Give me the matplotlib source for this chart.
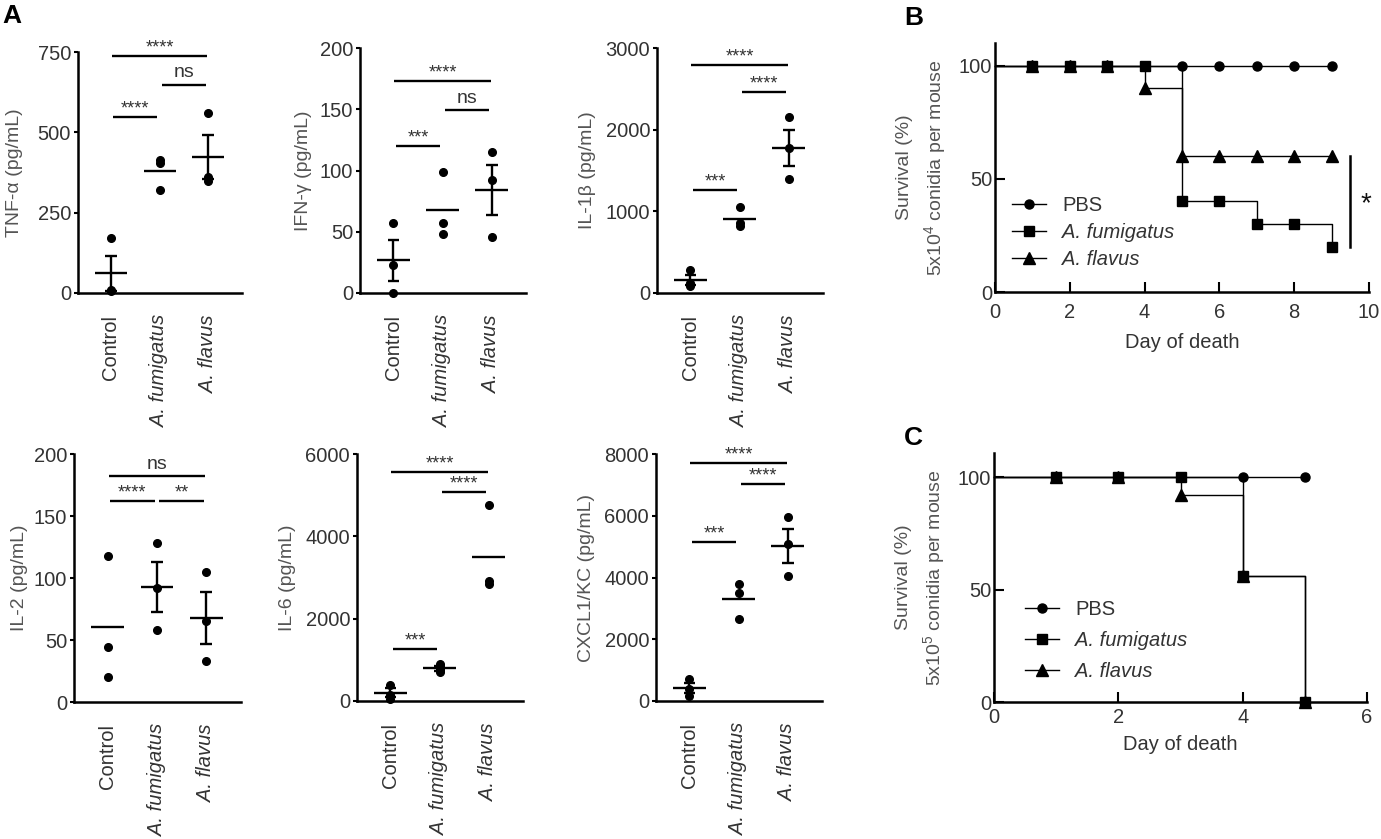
import matplotlib
matplotlib.use('Agg')
import matplotlib.pyplot as plt
import numpy as np

plt.rcParams['font.family'] = ['Liberation Sans', 'DejaVu Sans']
plt.rcParams['mathtext.fontset'] = 'custom'
plt.rcParams['mathtext.rm'] = 'Liberation Sans'
plt.rcParams['mathtext.it'] = 'Liberation Sans:italic'

# ---------------- data ----------------
groups = ['Control', 'A. fumigatus', 'A. flavus']

tnf = [[170, 10, 5], [415, 405, 320], [560, 360, 350]]
ifn = [[57, 23, 0], [99, 57, 48], [115, 92, 46]]
il1b = [[285, 120, 85], [1050, 860, 820], [2150, 1780, 1400]]
il2 = [[118, 44, 20], [128, 92, 58], [105, 65, 33]]
il6 = [[400, 150, 60], [900, 780, 700], [4770, 2920, 2840]]
cxcl = [[700, 400, 160], [3780, 3510, 2660], [5950, 5090, 4050]]

# which groups show SEM bars
tnf_err = [True, False, True]
ifn_err = [True, False, True]
il1b_err = [True, False, True]
il2_err = [False, True, True]
il6_err = [True, True, False]
cxcl_err = [True, False, True]

# significance: (group i, group j, bar height, label)
tnf_sig = [(0, 2, 738, '****'), (1, 2, 648, 'ns'), (0, 1, 547, '****')]
ifn_sig = [(0, 2, 173, '****'), (1, 2, 149, 'ns'), (0, 1, 120, '***')]
il1b_sig = [(0, 2, 2797, '****'), (1, 2, 2463, '****'), (0, 1, 1258, '***')]
il2_sig = [(0, 2, 182, 'ns'), (0, 1, 162, '****'), (1, 2, 162, '**')]
il6_sig = [(0, 2, 5570, '****'), (1, 2, 5068, '****'), (0, 1, 1273, '***')]
cxcl_sig = [(0, 2, 7719, '****'), (1, 2, 7027, '****'), (0, 1, 5157, '***')]

tnf_ticks = [0, 250, 500, 750]
ifn_ticks = [0, 50, 100, 150, 200]
il1b_ticks = [0, 1000, 2000, 3000]
il2_ticks = [0, 50, 100, 150, 200]
il6_ticks = [0, 2000, 4000, 6000]
cxcl_ticks = [0, 2000, 4000, 6000, 8000]

# survival
series_names = ['PBS', 'A. fumigatus', 'A. flavus']
days_b = [1, 2, 3, 4, 5, 6, 7, 8, 9]
pbs_b = [100, 100, 100, 100, 100, 100, 100, 100, 100]
fum_b = [100, 100, 100, 100, 40, 40, 30, 30, 20]
fla_b = [100, 100, 100, 90, 60, 60, 60, 60, 60]
days_c = [1, 2, 3, 4, 5]
pbs_c = [100, 100, 100, 100, 100]
fum_c = [100, 100, 100, 56, 0]
fla_c = [100, 100, 92, 56, 0]

# ---------------- figure ----------------
W, H = 1381, 839
fig = plt.figure(figsize=(W / 100, H / 100), dpi=100)


def add_ax(l, t, r, b):
    return fig.add_axes([l / W, 1 - b / H, (r - l) / W, (b - t) / H])


TXT = '#333333'
LAB = '#555555'

panels = [
    (tnf, tnf_err, tnf_sig, tnf_ticks, 'TNF-α (pg/mL)', (78, 52, 242, 293), -0.335),
    (ifn, ifn_err, ifn_sig, ifn_ticks, 'IFN-γ (pg/mL)', (360, 48, 526, 293), -0.29),
    (il1b, il1b_err, il1b_sig, il1b_ticks, 'IL-1β (pg/mL)', (657, 48, 823, 293), -0.37),
    (il2, il2_err, il2_sig, il2_ticks, 'IL-2 (pg/mL)', (74, 454, 241, 702), -0.275),
    (il6, il6_err, il6_sig, il6_ticks, 'IL-6 (pg/mL)', (357, 454, 523, 701), -0.37),
    (cxcl, cxcl_err, cxcl_sig, cxcl_ticks, 'CXCL1/KC (pg/mL)', (656, 454, 822, 701), -0.37),
]

for data, errs, sigs, ticks, ylabel, rect, labx in panels:
    ax = add_ax(*rect)
    for i, vals in enumerate(data):
        vals = np.asarray(vals, float)
        m = vals.mean()
        s = vals.std(ddof=1) / np.sqrt(len(vals))
        ax.plot([i] * len(vals), vals, 'o', color='black', ms=5.5, zorder=3, clip_on=False)
        ax.hlines(m, i - 0.33, i + 0.33, color='black', lw=1.7, zorder=4)
        if errs[i]:
            ax.vlines(i, m - s, m + s, color='black', lw=1.7, zorder=4)
            ax.hlines([m - s, m + s], i - 0.12, i + 0.12, color='black', lw=1.7, zorder=4)
    for i, j, y, lab in sigs:
        shrink = 0.05 if j - i == 1 else 0.02
        x0, x1 = i + shrink, j - shrink
        ax.plot([x0, x1], [y, y], color='black', lw=1.7, clip_on=False, solid_capstyle='butt')
        if lab == 'ns':
            ax.annotate(lab, ((x0 + x1) / 2, y), xytext=(0, 5.5), textcoords='offset points',
                        ha='center', va='baseline', fontsize=14, color=TXT, annotation_clip=False)
        else:
            ax.annotate(lab, ((x0 + x1) / 2, y), xytext=(0, 2.5), textcoords='offset points',
                        ha='center', va='baseline', fontsize=13, color=TXT, annotation_clip=False)
    ax.set_xlim(-0.68, 2.7)
    ax.set_ylim(0, ticks[-1])
    ax.set_yticks(ticks)
    ax.set_xticks([0, 1, 2])
    ax.set_xticklabels(groups, rotation=90, fontsize=14.5, color=TXT, va='top', ha='center')
    for k, t in enumerate(ax.get_xticklabels()):
        if k > 0:
            t.set_fontstyle('italic')
    ax.tick_params(axis='x', length=0, pad=16)
    ax.tick_params(axis='y', direction='out', length=3, width=1.5, pad=2, labelsize=14.5,
                   labelcolor=TXT)
    for sp in ['top', 'right']:
        ax.spines[sp].set_visible(False)
    for sp in ['left', 'bottom']:
        ax.spines[sp].set_linewidth(1.8)
    ax.set_ylabel(ylabel, fontsize=14, color=LAB)
    ax.yaxis.set_label_coords(labx, 0.5)


def survival(rect, days, pbs, fum, fla, xmax, xticks, exp, opts):
    ax = add_ax(*rect)
    styles = [('o', 6.5), ('s', 7.5), ('^', 8)]
    curves = [pbs, fum, fla]
    order = [0, 2, 1]
    handles = {}
    for k in order:
        xs = [0] + list(days)
        ys = [100] + list(curves[k])
        ax.plot(xs, ys, drawstyle='steps-post', color='black', lw=1, zorder=2, clip_on=False)
        ax.plot(days, curves[k], linestyle='none', marker=styles[k][0], ms=styles[k][1],
                color='black', zorder=3 + k, clip_on=False)
        handles[k] = ax.plot([], [], marker=styles[k][0], ms=styles[k][1], color='black', lw=1)[0]
    leg = ax.legend([handles[0], handles[1], handles[2]], series_names,
                    loc='upper left', bbox_to_anchor=opts['leg'], frameon=False, fontsize=14.5,
                    handlelength=1.7, handletextpad=0.8, labelspacing=opts['ls'], borderpad=0,
                    borderaxespad=0)
    for k, t in enumerate(leg.get_texts()):
        t.set_color(TXT)
        if k > 0:
            t.set_fontstyle('italic')
    if opts.get('bar'):
        bx, by0, by1, sx, sy = opts['bar']
        ax.plot([bx, bx], [by0, by1], color='black', lw=1.8, clip_on=False)
        ax.text(sx, sy, '*', fontsize=20, ha='center', va='center', color='#111111')
    ax.set_xlim(0, xmax)
    ax.set_ylim(0, opts['ytop'])
    ax.set_xticks(xticks)
    ax.set_yticks([0, 50, 100])
    ax.tick_params(direction='in', length=7, width=1.5, labelsize=14.5, labelcolor=TXT)
    ax.tick_params(axis='x', pad=opts['xpad'])
    ax.tick_params(axis='y', pad=2)
    for sp in ['top', 'right']:
        ax.spines[sp].set_visible(False)
    for sp in ['left', 'bottom']:
        ax.spines[sp].set_linewidth(1.8)
    ax.set_xlabel('Day of death', fontsize=14.5, color=TXT, labelpad=opts['lpad'])
    ax.set_ylabel('Survival (%)\n5x10$^{' + str(exp) + '}$ conidia per mouse', fontsize=14,
                  color=LAB, linespacing=1.5)
    ax.yaxis.set_label_coords(-0.125, 0.5)
    return ax


survival((995, 43, 1369, 292), days_b, pbs_b, fum_b, fla_b, 10, [0, 2, 4, 6, 8, 10], 4,
         {'leg': (0.045, 0.385), 'ytop': 110, 'bar': (9.5, 20, 60, 9.92, 39),
          'ls': 0.4, 'xpad': 8, 'lpad': 8})
survival((994, 453, 1367, 702), days_c, pbs_c, fum_c, fla_c, 6, [0, 2, 4, 6], 5,
         {'leg': (0.083, 0.41), 'ytop': 110.7, 'ls': 0.6, 'xpad': 4, 'lpad': 6})

fig.text(2 / W, 1 - 4 / H, 'A', fontsize=19, fontweight='bold', ha='left', va='top')
fig.text(904 / W, 1 - 6 / H, 'B', fontsize=19, fontweight='bold', ha='left', va='top')
fig.text(904 / W, 1 - 426 / H, 'C', fontsize=19, fontweight='bold', ha='left', va='top')

fig.savefig('out.png', dpi=100)
